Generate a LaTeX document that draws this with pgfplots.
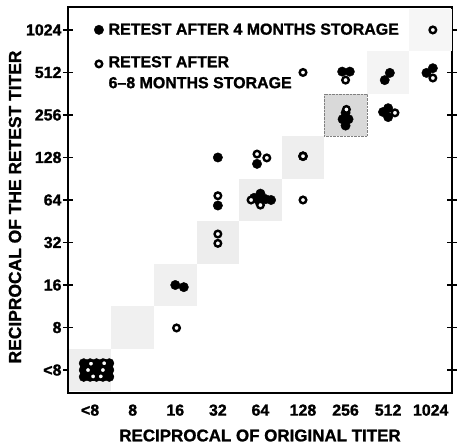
\documentclass[border=0pt]{standalone}
\usepackage{fontspec}
\setmainfont{Liberation Sans}[BoldFeatures={FakeBold=1.2}]
\usepackage{pgfplots}
\pgfplotsset{compat=1.18}
\begin{document}
\begin{tikzpicture}
\begin{axis}[
  scale only axis, width=384bp, height=386bp,
  xmin=-0.52, xmax=8.5, ymin=-0.54, ymax=8.54,
  xtick={0,...,8}, ytick={0,...,8},
  xticklabels={<8,8,16,32,64,128,256,512,1024},
  yticklabels={<8,8,16,32,64,128,256,512,1024},
  /pgf/number format/assume math mode=true,
  ticklabel style={font=\fontsize{16}{16}\selectfont\bfseries},
  xticklabel style={yshift=-3bp},
  yticklabel style={xshift=2bp},
  x tick style={draw=none},
  y tick style={line width=1.6bp, black},
  major tick length=10bp, tick align=center,
  axis line style={line width=2bp},
  xlabel={RECIPROCAL OF ORIGINAL TITER},
  ylabel={RECIPROCAL OF THE RETEST TITER},
  xlabel style={font=\fontsize{17}{17}\selectfont\bfseries, at={(rel axis cs:0.5,0)}, anchor=north, yshift=-33bp},
  ylabel style={font=\fontsize{17.5}{17.5}\selectfont\bfseries, yshift=-2bp, xshift=-7bp},
  legend style={at={(rel axis cs:0.06,0.968)}, anchor=north west, draw=none, fill=none,
    font=\fontsize{16}{21}\selectfont\bfseries, nodes={align=left}, row sep=16bp, column sep=3bp},
  legend cell align=left,
  clip=false,
]
% shaded diagonal cells
\addplot[forget plot, fill=gray!13, draw=none] coordinates {(-0.5,-0.5) (0.5,-0.5) (0.5,0.5) (-0.5,0.5)} --cycle;
\addplot[forget plot, fill=gray!12, draw=none] coordinates {(0.5,0.5) (1.5,0.5) (1.5,1.5) (0.5,1.5)} --cycle;
\addplot[forget plot, fill=gray!12, draw=none] coordinates {(1.5,1.5) (2.5,1.5) (2.5,2.5) (1.5,2.5)} --cycle;
\addplot[forget plot, fill=gray!14, draw=none] coordinates {(2.5,2.5) (3.5,2.5) (3.5,3.5) (2.5,3.5)} --cycle;
\addplot[forget plot, fill=gray!14, draw=none] coordinates {(3.5,3.5) (4.5,3.5) (4.5,4.5) (3.5,4.5)} --cycle;
\addplot[forget plot, fill=gray!13, draw=none] coordinates {(4.5,4.5) (5.5,4.5) (5.5,5.5) (4.5,5.5)} --cycle;
\addplot[forget plot, fill=gray!30, draw=black!50, densely dotted] coordinates {(5.5,5.5) (6.5,5.5) (6.5,6.5) (5.5,6.5)} --cycle;
\addplot[forget plot, fill=gray!9, draw=none] coordinates {(6.5,6.5) (7.5,6.5) (7.5,7.5) (6.5,7.5)} --cycle;
\addplot[forget plot, fill=gray!7, draw=none] coordinates {(7.5,7.5) (8.5,7.5) (8.5,8.5) (7.5,8.5)} --cycle;
% retest after 4 months (filled)
\addplot[only marks, mark=*, mark size=4.7bp, black] coordinates {
 (-0.15,0.16) (0.0,0.16) (0.15,0.16) (0.3,0.16) (0.45,0.16)
 (-0.15,0.0) (0.0,0.0) (0.15,0.0) (0.3,0.0) (0.45,0.0)
 (-0.15,-0.16) (0.0,-0.16) (0.15,-0.16) (0.3,-0.16) (0.45,-0.16)
 (2.0,2.0) (2.2,1.95)
 (3.0,5.0) (3.0,3.87)
 (3.92,4.85) (3.85,4.05) (4.0,4.15) (4.12,4.02) (4.25,4.0) (3.98,3.95)
 (5.0,5.03)
 (5.92,7.02) (6.1,7.02) (6.0,6.05) (5.93,5.9) (6.07,5.9) (6.0,5.75)
 (6.92,6.82) (7.04,6.99) (6.88,6.07) (7.0,6.16) (7.0,5.95)
 (7.9,6.99) (8.05,7.1)
};
\addlegendentry{RETEST AFTER 4 MONTHS STORAGE}
% retest after 6-8 months (open)
\addplot[only marks, mark=*, mark size=3.3bp, black, mark options={line width=2.4bp, fill=white, draw=black},
  legend image post style={yshift=9bp}] coordinates {
 (0.02,0.15) (0.33,0.16) (-0.05,0.0) (0.3,0.0) (0.07,-0.15) (0.25,-0.15)
 (2.03,0.99)
 (3.0,4.1) (3.0,3.2) (3.0,2.98)
 (3.92,5.08) (4.15,4.99) (3.78,4.0) (4.0,3.88)
 (5.0,5.03) (5.0,4.0) (5.0,7.0)
 (6.0,6.82) (6.02,6.13)
 (7.16,6.05)
 (8.05,8.0) (8.05,6.87)
};
\addlegendentry{RETEST AFTER\\6--8 MONTHS STORAGE}
\end{axis}
\pgfresetboundingbox
\path ([shift={(-68bp,-53bp)}]current axis.south west) rectangle ([shift={(5bp,7bp)}]current axis.north east);
\end{tikzpicture}
\end{document}
